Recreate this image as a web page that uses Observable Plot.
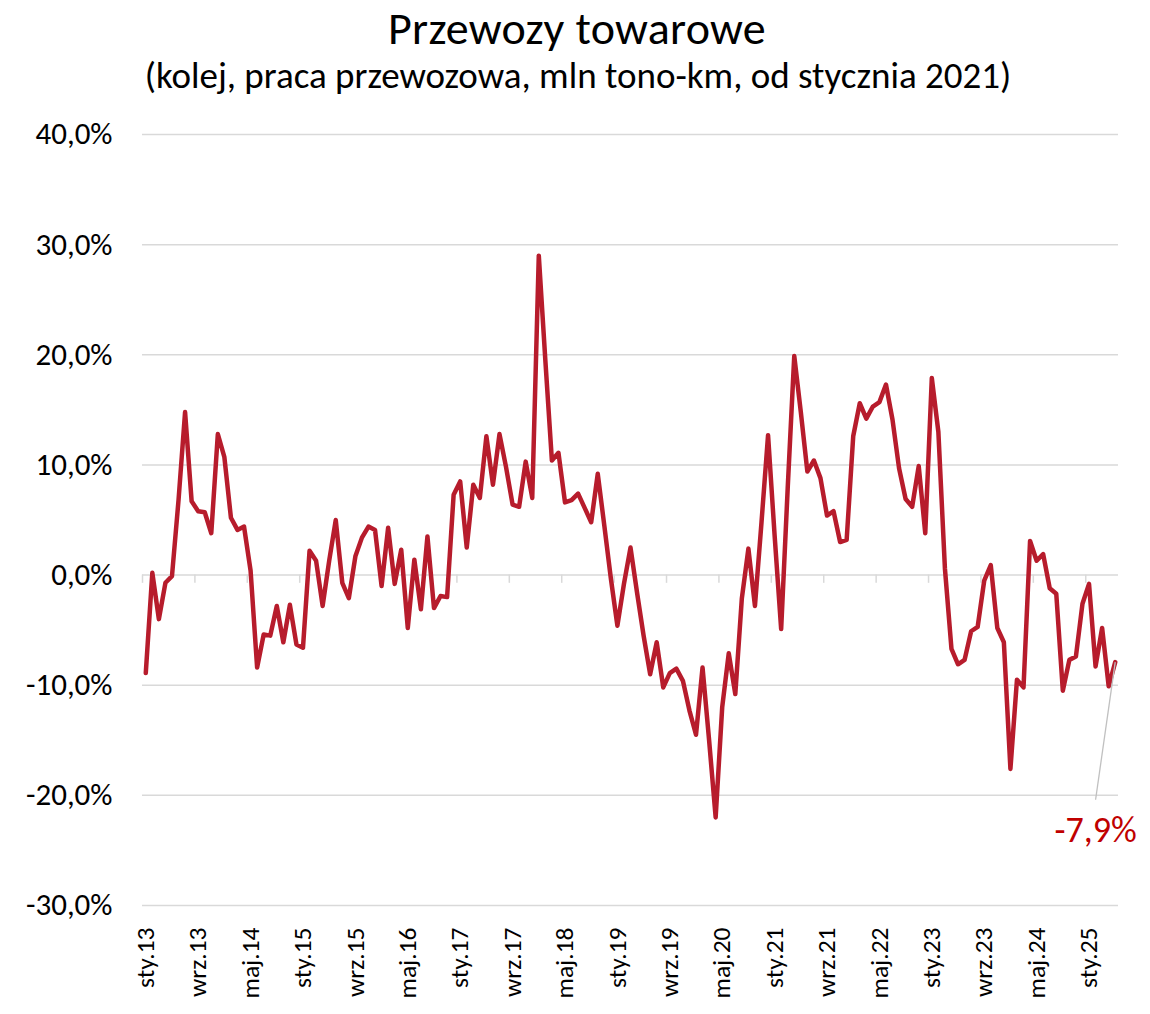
<!DOCTYPE html>
<html>
<head>
<meta charset="utf-8">
<script src="https://cdn.jsdelivr.net/npm/d3@7"></script>
<script src="https://cdn.jsdelivr.net/npm/@observablehq/plot@0.6"></script>
<style>
  html, body { margin: 0; padding: 0; background: #fff; overflow: hidden; }
  #wrap { position: relative; width: 1150px; height: 1014px; font-family: Carlito, Calibri, Lato, "Open Sans", sans-serif; color: #000; }
  #title { position: absolute; top: 0px; left: 0; width: 1150px; box-sizing: border-box; padding-left: 4px; text-align: center; font-size: 46px; letter-spacing: 0.3px; line-height: 56px; white-space: nowrap; }
  #subtitle { position: absolute; top: 52px; left: 0; width: 1150px; box-sizing: border-box; padding-left: 6px; text-align: center; font-size: 37px; line-height: 48px; white-space: nowrap; }
  #chart { position: absolute; top: 110px; left: 0; }
</style>
</head>
<body>
<div id="wrap">
  <div id="title">Przewozy towarowe</div>
  <div id="subtitle">(kolej, praca przewozowa, mln tono-km, od stycznia 2021)</div>
  <div id="chart"></div>
</div>
<script>
// Monthly y/y change, Jan 2013 – May 2025 (%)
const values = [
  -8.9, 0.2, -4.0, -0.7, -0.1, 6.8, 14.8, 6.7, 5.8, 5.7, 3.8, 12.8,
  10.7, 5.2, 4.1, 4.4, 0.4, -8.4, -5.4, -5.5, -2.8, -6.1, -2.7, -6.3,
  -6.6, 2.2, 1.3, -2.8, 1.3, 5.0, -0.7, -2.1, 1.7, 3.4, 4.4, 4.1,
  -1.0, 4.3, -0.8, 2.3, -4.8, 1.4, -3.1, 3.5, -3.0, -1.9, -2.0, 7.3,
  8.5, 2.5, 8.2, 7.0, 12.6, 8.2, 12.8, 9.8, 6.4, 6.2, 10.3, 7.0,
  29.0, 19.5, 10.4, 11.1, 6.6, 6.8, 7.4, 6.1, 4.8, 9.2, 4.5, -0.3,
  -4.6, -0.8, 2.5, -1.6, -5.5, -9.0, -6.1, -10.2, -8.9, -8.5, -9.6, -12.3,
  -14.5, -8.4, -15.0, -22.0, -12.0, -7.1, -10.8, -2.1, 2.4, -2.8, 4.8, 12.7,
  3.6, -4.9, 7.9, 19.9, 14.8, 9.4, 10.4, 8.8, 5.4, 5.8, 3.0, 3.2,
  12.6, 15.6, 14.2, 15.3, 15.7, 17.3, 14.1, 9.7, 6.9, 6.2, 9.9, 3.8,
  17.9, 13.0, 0.6, -6.7, -8.1, -7.7, -5.1, -4.7, -0.5, 0.9, -4.8, -6.1,
  -17.6, -9.5, -10.2, 3.1, 1.3, 1.9, -1.2, -1.7, -10.5, -7.7, -7.4, -2.6,
  -0.8, -8.3, -4.8, -10.1, -7.9
];

// Category-axis labels, one every 8 months starting Jan 2013
const xLabels = ["sty.13","wrz.13","maj.14","sty.15","wrz.15","maj.16","sty.17","wrz.17","maj.18",
                 "sty.19","wrz.19","maj.20","sty.21","wrz.21","maj.22","sty.23","wrz.23","maj.24","sty.25"];
const labelStep = 8;

const yTicks = [-30, -20, -10, 0, 10, 20, 30, 40];

// Last-value callout
const calloutText = ["-7,9%"];
const calloutValue = [-7.9];
const calloutLabelY = [-23.2];
const calloutLeaderEndY = [-20.4];
const calloutLabelShift = [3]; // months left of last point

const data = values.map((v, i) => ({i, v}));
const n = values.length;
const xTickIdx = xLabels.map((_, k) => k * labelStep);
const tickBounds = xLabels.map((_, k) => k * labelStep - 0.5);
const last = n - 1;
const callout = calloutText.map((t, k) => ({
  text: t,
  x1: last, y1: calloutValue[k],
  x2: last - calloutLabelShift[k], y2: calloutLeaderEndY[k],
  ly: calloutLabelY[k]
}));

const fmtPct = d => d.toFixed(1).replace(".", ",") + "%";

const chart = Plot.plot({
  width: 1150,
  height: 904,
  marginTop: 24,
  marginBottom: 109,
  marginLeft: 142,
  marginRight: 32,
  x: {domain: [-0.5, n - 0.5], axis: null},
  y: {domain: [-30, 40], axis: null},
  style: {fontFamily: "Carlito, Calibri, Lato, 'Open Sans', sans-serif", color: "#000", background: "#fff", overflow: "visible"},
  marks: [
    Plot.gridY(yTicks, {stroke: "#d9d9d9", strokeOpacity: 1, strokeWidth: 1.5}),
    Plot.ruleX(tickBounds, {x: d => d, y1: 0, y2: -0.75, stroke: "#d9d9d9", strokeWidth: 1.5}),
    Plot.axisY(yTicks, {tickSize: 0, tickPadding: 30, tickFormat: fmtPct, fontSize: 31, fill: "#000"}),
    Plot.axisX(xTickIdx, {tickSize: 0, tickPadding: 22, tickRotate: -90, tickFormat: d => xLabels[d / labelStep], fontSize: 25.5, fill: "#000"}),
    Plot.line(data, {x: "i", y: "v", stroke: "#b71c2c", strokeWidth: 4.5, strokeLinejoin: "round", strokeLinecap: "round"}),
    Plot.link(callout, {x1: "x1", y1: "y1", x2: "x2", y2: "y2", stroke: "#c0c0c0", strokeWidth: 1.3}),
    Plot.text(callout, {x: "x2", y: "ly", text: "text", fill: "#c00000", fontSize: 36})
  ]
});
document.getElementById("chart").appendChild(chart);
</script>
</body>
</html>
